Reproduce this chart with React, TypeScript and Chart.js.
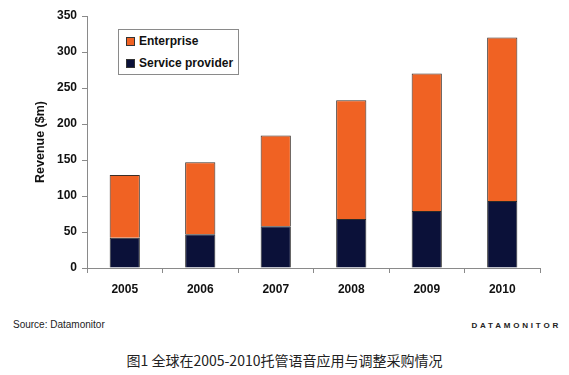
import React, { useEffect, useRef } from "react";
import { Chart, registerables } from "chart.js";

Chart.register(...registerables);

const years = ["2005", "2006", "2007", "2008", "2009", "2010"];
const serviceProvider = [42, 47, 58, 68, 79, 93];
const enterprise = [87, 100, 126, 165, 191, 227];
const yTitle = "Revenue ($m)";
const legendLabels = ["Enterprise", "Service provider"];
const sourceText = "Source: Datamonitor";
const brandText = "DATAMONITOR";
const caption = "图1 全球在2005-2010托管语音应用与调整采购情况";

const ORANGE = "#F06223";
const NAVY = "#0B1139";
const FONT = '"Liberation Sans", Arial, Helvetica, sans-serif';

export default function App() {
  const ref = useRef<HTMLCanvasElement | null>(null);

  useEffect(() => {
    if (!ref.current) return;
    const chart = new Chart(ref.current, {
      type: "bar",
      data: {
        labels: years,
        datasets: [
          {
            label: legendLabels[1],
            data: serviceProvider,
            backgroundColor: NAVY,
            borderColor: "#2a2a2a",
            borderWidth: 1,
          },
          {
            label: legendLabels[0],
            data: enterprise,
            backgroundColor: ORANGE,
            borderColor: "#3a2e28",
            borderWidth: 1,
          },
        ],
      },
      options: {
        responsive: false,
        devicePixelRatio: 1,
        animation: false,
        layout: { padding: { top: 16, right: 29, bottom: 0, left: 0 } },
        plugins: { legend: { display: false }, tooltip: { enabled: false } },
        datasets: { bar: { categoryPercentage: 1, barPercentage: 0.4 } },
        scales: {
          x: {
            stacked: true,
            grid: { drawOnChartArea: false, drawTicks: true, tickLength: 5, color: "#8a8a8a", offset: true },
            border: { color: "#8a8a8a", width: 1 },
            ticks: { color: "#111", font: { family: FONT, size: 12, weight: "bold" }, padding: 9 },
            afterFit: (s: any) => { s.height = 32; },
          },
          y: {
            stacked: true,
            min: 0,
            max: 350,
            grid: { drawOnChartArea: false, drawTicks: true, tickLength: 5, color: "#8a8a8a" },
            border: { color: "#8a8a8a", width: 1 },
            ticks: { stepSize: 50, color: "#111", font: { family: FONT, size: 12, weight: "bold" }, padding: 5 },
            title: {
              display: true,
              text: yTitle,
              color: "#111",
              font: { family: FONT, size: 12.5, weight: "bold" },
              padding: { top: 33, bottom: 0 },
            },
            afterFit: (s: any) => { s.width = 87; },
          },
        },
      },
    });
    return () => chart.destroy();
  }, []);

  const legendItem = (label: string, color: string, top: number) => (
    <div style={{ position: "absolute", left: 7, top, height: 14, display: "flex", alignItems: "center" }}>
      <div style={{ width: 7, height: 7, background: color, border: "1px solid #333", marginRight: 4 }} />
      <span style={{ fontFamily: FONT, fontWeight: "bold", fontSize: 12, color: "#111", whiteSpace: "nowrap" }}>{label}</span>
    </div>
  );

  return (
    <div style={{ position: "fixed", left: 0, top: 0, width: 569, height: 375, background: "#fff", overflow: "hidden" }}>
      <canvas ref={ref} width={569} height={300} style={{ position: "absolute", left: 0, top: 0, width: 569, height: 300 }} />
      <div style={{ position: "absolute", left: 118, top: 29, width: 119, height: 44, border: "1px solid #8a8a8a", background: "#fff" }}>
        {legendItem(legendLabels[0], ORANGE, 4)}
        {legendItem(legendLabels[1], NAVY, 26)}
      </div>
      <div style={{ position: "absolute", left: 13, top: 319, fontFamily: FONT, fontSize: 10, color: "#222", whiteSpace: "nowrap", lineHeight: "12px" }}>{sourceText}</div>
      <div style={{ position: "absolute", right: 8, top: 321, fontFamily: FONT, fontSize: 8, fontWeight: "bold", letterSpacing: "2.8px", color: "#222", whiteSpace: "nowrap", lineHeight: "10px" }}>{brandText}</div>
      <div style={{ position: "absolute", left: 0, width: 569, top: 351, textAlign: "center", fontFamily: '"Noto Sans CJK SC", sans-serif', fontSize: 14, color: "#222", whiteSpace: "nowrap", lineHeight: "18px" }}>{caption}</div>
    </div>
  );
}
